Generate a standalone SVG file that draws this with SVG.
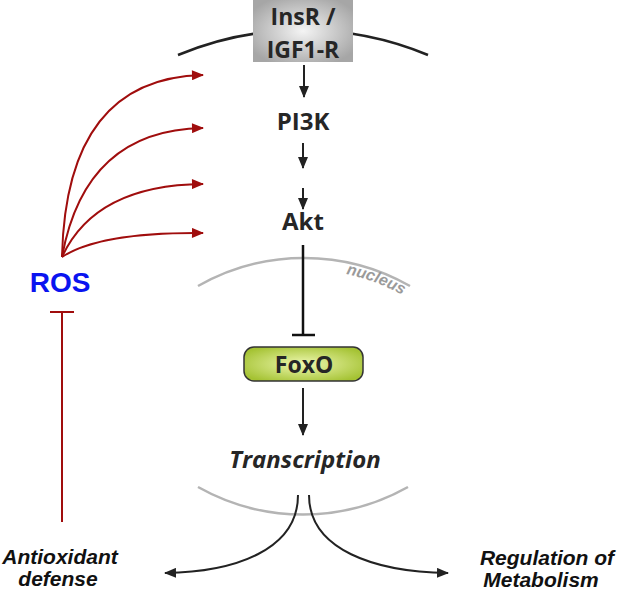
<svg xmlns="http://www.w3.org/2000/svg" width="617" height="590" viewBox="0 0 617 590">
<style>
.lbl{font-family:"Open Sans","DejaVu Sans",sans-serif;font-weight:bold;fill:#262626;text-anchor:middle}
.out{font-family:"Liberation Sans",Arial,sans-serif;font-weight:bold;font-style:italic;fill:#111;text-anchor:middle;font-size:21px}
.blk{fill:none;stroke:#222;stroke-width:2}
.red{fill:none;stroke:#a00d0d;stroke-width:2}
.mem{fill:none;stroke:#222;stroke-width:2.5}
.nuc{fill:none;stroke:#b4b4b4;stroke-width:2.5}
</style>
<defs>
<marker id="ab" viewBox="0 0 12 10" refX="11" refY="5" markerWidth="6" markerHeight="5" orient="auto" markerUnits="strokeWidth"><path d="M0,0 L12,5 L0,10 z" fill="#222"/></marker>
<marker id="ar" viewBox="0 0 12 10" refX="11" refY="5" markerWidth="6.5" markerHeight="5" orient="auto" markerUnits="strokeWidth"><path d="M0,0 L12,5 L0,10 z" fill="#a00d0d"/></marker>
<radialGradient id="gg" cx="50%" cy="50%" r="60%"><stop offset="0" stop-color="#f4f4f4"/><stop offset="1" stop-color="#a6a6a6"/></radialGradient>
<radialGradient id="gf" cx="50%" cy="50%" r="60%"><stop offset="0" stop-color="#eef8b0"/><stop offset="1" stop-color="#a4c232"/></radialGradient>
<path id="nucpath" d="M101,472.6 A203,203 0 0 1 507,472.6"/>
</defs>
<g id="membrane"><path class="mem" d="M178,55 A325,325 0 0 1 428,55"/></g>
<g id="nucleus">
<path class="nuc" d="M198,286 A214,214 0 0 1 410,286"/>
<path class="nuc" d="M198,487 A214,214 0 0 0 408,487"/>
<text font-family="Liberation Sans,Arial,sans-serif" font-weight="bold" font-style="italic" font-size="16" fill="#9a9a9a"><textPath href="#nucpath" startOffset="361">nucleus</textPath></text>
</g>
<g id="insr">
<rect x="253" y="0" width="100" height="62" fill="url(#gg)"/>
<text class="lbl" x="303" y="25" font-size="23">InsR /</text>
<text class="lbl" x="303" y="58" font-size="23">IGF1-R</text>
</g>
<g id="pi3k"><text class="lbl" x="303" y="130" font-size="24">PI3K</text></g>
<g id="akt"><text class="lbl" x="303" y="230" font-size="24">Akt</text></g>
<g id="foxo">
<rect x="244" y="347" width="119" height="34" rx="10" fill="url(#gf)" stroke="#333" stroke-width="1.5"/>
<text class="lbl" x="304" y="373" font-size="23">FoxO</text>
</g>
<g id="transcription"><text class="lbl" x="305" y="468" font-size="24" font-style="italic">Transcription</text></g>
<g id="ros"><text x="60" y="292" font-family="Liberation Sans,Arial,sans-serif" font-weight="bold" font-size="28" fill="#0a14f0" text-anchor="middle">ROS</text></g>
<g id="antioxidant"><text class="out" x="60" y="564">Antioxidant</text><text class="out" x="58" y="586">defense</text></g>
<g id="metabolism"><text class="out" x="547" y="565">Regulation of</text><text class="out" x="541" y="587">Metabolism</text></g>
<g id="connectors">
<line class="blk" x1="304" y1="65" x2="304" y2="97" marker-end="url(#ab)"/>
<line class="blk" x1="303" y1="143" x2="303" y2="168" marker-end="url(#ab)"/>
<line class="blk" x1="303" y1="188" x2="303" y2="209" marker-end="url(#ab)"/>
<line stroke="#111" stroke-width="2.5" x1="303" y1="245" x2="303" y2="335"/>
<line stroke="#111" stroke-width="2.5" x1="292" y1="335" x2="315" y2="335"/>
<line class="blk" x1="303" y1="388" x2="303" y2="435" marker-end="url(#ab)"/>
<path class="blk" d="M298,495 C298,550 235,572 165,573" marker-end="url(#ab)"/>
<path class="blk" d="M309,495 C309,550 375,572 448,573" marker-end="url(#ab)"/>
<path class="red" d="M62,257 Q66,78 203,75" marker-end="url(#ar)"/>
<path class="red" d="M62,257 Q85,130 203,128" marker-end="url(#ar)"/>
<path class="red" d="M62,257 Q95,185 203,184" marker-end="url(#ar)"/>
<path class="red" d="M62,257 Q100,232 203,233" marker-end="url(#ar)"/>
<line class="red" x1="62" y1="312" x2="62" y2="522"/>
<line class="red" x1="50" y1="312" x2="74" y2="312"/>
</g>
</svg>
